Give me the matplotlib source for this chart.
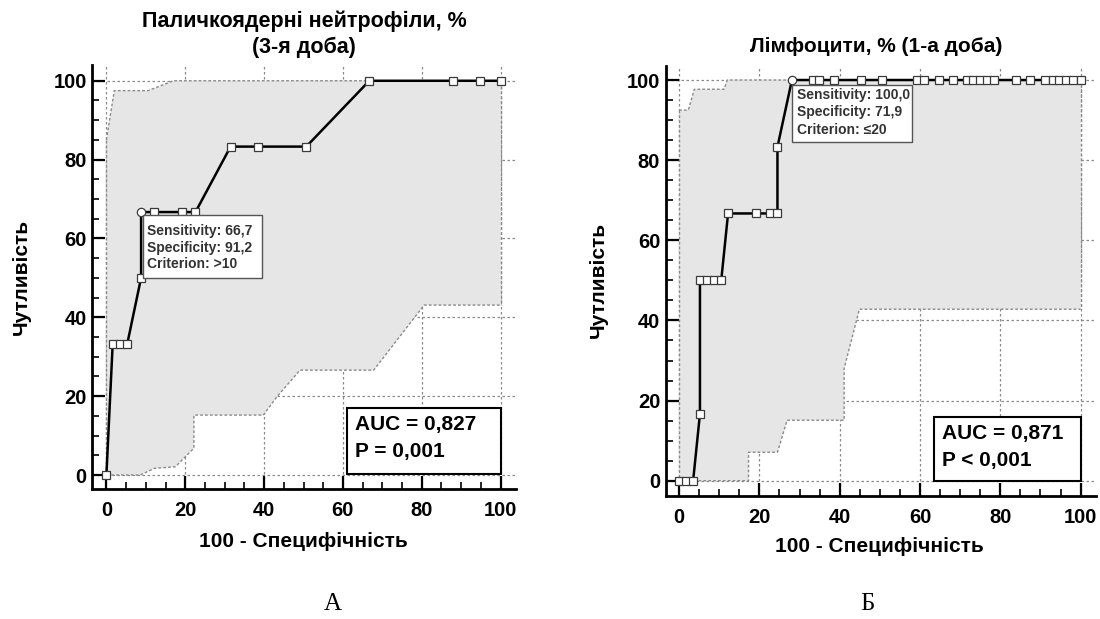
import matplotlib
matplotlib.use("Agg")
import matplotlib.pyplot as plt
from matplotlib.patches import Rectangle, Polygon

plt.rcParams['font.family'] = ['Liberation Sans', 'DejaVu Sans']

# ---- Panel A: band neutrophils, day 3 ----
a_title = "Паличкоядерні нейтрофіли, %\n(3-я доба)"
a_fpr = [0, 1.6, 3.4, 5.3, 8.8, 8.8, 12.2, 19.2, 22.6, 31.5, 38.4, 50.7, 66.7, 87.8, 94.8, 100]
a_tpr = [0, 33.3, 33.3, 33.3, 50.0, 66.7, 66.7, 66.7, 66.7, 83.3, 83.3, 83.3, 100, 100, 100, 100]
a_best = (8.8, 66.7)
a_ci_up_x = [0, 2.0, 10.6, 17.0, 100]
a_ci_up_y = [85, 97.5, 97.5, 100, 100]
a_ci_lo_x = [0, 8.6, 12.2, 17.5, 22.2, 22.2, 39.8, 43.3, 49.1, 67.8, 80.6, 100]
a_ci_lo_y = [0, 0, 1.7, 2.1, 6.8, 15.2, 15.2, 19.9, 26.6, 26.6, 43.1, 43.1]
a_sens, a_spec, a_crit = "66,7", "91,2", ">10"
a_auc, a_p = "AUC = 0,827", "P = 0,001"

# ---- Panel B: lymphocytes, day 1 ----
b_title = "Лімфоцити, % (1-а доба)"
b_fpr = [0, 1.8, 3.5, 5.2, 5.2, 6.9, 8.7, 10.5, 12.2, 19.2, 22.7, 24.5, 24.5, 28.1,
         33.3, 34.9, 38.5, 45.4, 50.6, 59.2, 60.9, 64.8, 68.2, 71.7, 73.3, 75.0, 76.7,
         78.5, 84.0, 87.5, 91.2, 93.0, 94.7, 96.4, 98.2, 100]
b_tpr = [0, 0, 0, 16.7, 50, 50, 50, 50, 66.7, 66.7, 66.7, 66.7, 83.3, 100,
         100, 100, 100, 100, 100, 100, 100, 100, 100, 100, 100, 100, 100,
         100, 100, 100, 100, 100, 100, 100, 100, 100]
b_best = (28.1, 100)
b_ci_up_x = [0, 2.3, 3.8, 11.2, 12.0, 100]
b_ci_up_y = [92.5, 92.5, 97.7, 97.7, 100, 100]
b_ci_lo_x = [0, 17.3, 17.3, 24.5, 26.9, 41.1, 41.1, 44.9, 100]
b_ci_lo_y = [0, 0, 7.1, 7.1, 15.1, 15.1, 28.0, 42.8, 42.8]
b_sens, b_spec, b_crit = "100,0", "71,9", "≤20"
b_auc, b_p = "AUC = 0,871", "P < 0,001"

ticks = [0, 20, 40, 60, 80, 100]
minor_ticks = list(range(0, 101, 5))
xlabel = "100 - Специфічність"
ylabel = "Чутливість"

W, H = 1100, 619
fig = plt.figure(figsize=(W / 100, H / 100), dpi=100)


def px(x, y):
    return x / W, 1 - y / H


def panel(rect, xlim, ylim, fpr, tpr, best, up_x, up_y, lo_x, lo_y,
          info, info_box, info_xy, auc_lines, auc_box, auc_xy):
    ax = fig.add_axes(rect)
    ax.set_xlim(*xlim)
    ax.set_ylim(*ylim)
    for s in ("top", "right"):
        ax.spines[s].set_visible(False)
    for s in ("left", "bottom"):
        ax.spines[s].set_linewidth(2.0)
    ax.set_xticks(ticks)
    ax.set_yticks(ticks)
    ax.set_xticks(minor_ticks, minor=True)
    ax.set_yticks(minor_ticks, minor=True)
    ax.tick_params(which="major", direction="in", length=9.5, width=1.6,
                   labelsize=14.5)
    ax.tick_params(which="minor", direction="in", length=5, width=1.2)
    ax.tick_params(axis="x", which="major", pad=9)
    ax.tick_params(axis="y", which="major", pad=4)
    for lab in ax.get_xticklabels() + ax.get_yticklabels():
        lab.set_fontweight("bold")

    ax.set_axisbelow(True)
    ax.grid(True, which="major", color="#8a8a8a", linestyle=(0, (2, 2)),
            linewidth=0.9)

    # confidence band
    poly = list(zip(up_x, up_y)) + list(zip(lo_x[::-1], lo_y[::-1]))
    ax.add_patch(Polygon(poly, closed=True, facecolor="#e6e6e6",
                         edgecolor="none", zorder=1))
    edge = dict(color="#8a8a8a", linestyle=(0, (2, 1.5)), linewidth=1.0, zorder=2)
    ax.plot(up_x, up_y, **edge)
    ax.plot(lo_x, lo_y, **edge)
    ax.plot([up_x[-1], lo_x[-1]], [up_y[-1], lo_y[-1]], **edge)
    ax.plot([up_x[0], lo_x[0]], [up_y[0], lo_y[0]], **edge)

    # ROC curve
    ax.plot(fpr, tpr, color="black", linewidth=1.8, zorder=4)
    sq = [(x, y) for x, y in zip(fpr, tpr) if (x, y) != best]
    ax.plot([p[0] for p in sq], [p[1] for p in sq], linestyle="none",
            marker="s", markersize=6, markerfacecolor="white",
            markeredgecolor="#3a3a3a", markeredgewidth=0.9, zorder=5)
    ax.plot([best[0]], [best[1]], linestyle="none", marker="o", markersize=6,
            markerfacecolor="white", markeredgecolor="#3a3a3a",
            markeredgewidth=0.9, zorder=5)

    # criterion box
    (bx0, by0), (bx1, by1) = info_box
    ax.add_patch(Rectangle((bx0, by0), bx1 - bx0, by1 - by0, facecolor="white",
                           edgecolor="#555555", linewidth=1.0, zorder=6))
    tx, ty, dy = info_xy
    for i, line in enumerate(info):
        ax.text(tx, ty - i * dy, line, fontsize=10, fontweight="bold",
                color="#333333", ha="left", va="center", zorder=7,
                family=["Liberation Sans", "DejaVu Sans"])

    # AUC box
    (ax0, ay0), (ax1, ay1) = auc_box
    ax.add_patch(Rectangle((ax0, ay0), ax1 - ax0, ay1 - ay0, facecolor="white",
                           edgecolor="black", linewidth=1.5, zorder=6))
    tx, ty, dy = auc_xy
    for i, line in enumerate(auc_lines):
        ax.text(tx, ty - i * dy, line, fontsize=15, fontweight="bold",
                color="black", ha="left", va="center", zorder=7)
    return ax


panel([92.2 / W, 1 - 489 / H, 423.4 / W, 424 / H], (-3.6, 103.8), (-3.55, 104),
      a_fpr, a_tpr, a_best, a_ci_up_x, a_ci_up_y, a_ci_lo_x, a_ci_lo_y,
      ["Sensitivity: " + a_sens, "Specificity: " + a_spec, "Criterion: " + a_crit],
      ((9.4, 49.9), (39.4, 65.9)), (10.3, 62.0, 4.3),
      [a_auc, a_p], ((61.0, 0.2), (100, 17.1)), (63.0, 12.7, 6.8))

panel([665.7 / W, 1 - 495.7 / H, 429.8 / W, 429.7 / H], (-3.33, 103.7), (-3.74, 103.5),
      b_fpr, b_tpr, b_best, b_ci_up_x, b_ci_up_y, b_ci_lo_x, b_ci_lo_y,
      ["Sensitivity: " + b_sens, "Specificity: " + b_spec, "Criterion: " + b_crit],
      ((28.2, 84.6), (57.9, 98.8)), (29.3, 96.2, 4.3),
      [b_auc, b_p], ((63.4, 0), (100, 16.0)), (65.4, 11.8, 6.7))

# titles
fig.text(*px(304, 34), a_title, ha="center", va="center", fontsize=15.5,
         fontweight="bold", linespacing=1.3)
fig.text(*px(876, 47), b_title, ha="center", va="center", fontsize=15,
         fontweight="bold")

# axis labels
fig.text(*px(303.5, 541.5), xlabel, ha="center", va="center", fontsize=15,
         fontweight="bold")
fig.text(*px(879, 547), xlabel, ha="center", va="center", fontsize=15,
         fontweight="bold")
fig.text(*px(21, 277), ylabel, ha="center", va="center", fontsize=15,
         fontweight="bold", rotation=90)
fig.text(*px(598, 280), ylabel, ha="center", va="center", fontsize=15,
         fontweight="bold", rotation=90)

# panel letters
fig.text(*px(333, 604), "А", ha="center", va="center", fontsize=18,
         family=["Liberation Serif", "DejaVu Serif"])
fig.text(*px(867, 604), "Б", ha="center", va="center", fontsize=18,
         family=["Liberation Serif", "DejaVu Serif"])

fig.savefig("out.png", dpi=100, facecolor="white")
